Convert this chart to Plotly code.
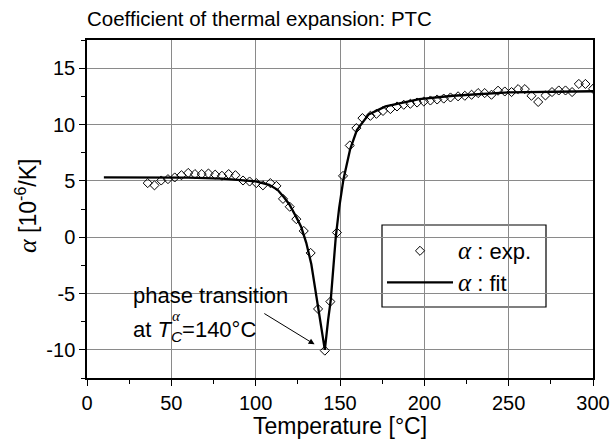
import plotly.graph_objects as go

# Experimental data (Temperature in °C, alpha in 1e-6/K)
exp_T = [36, 40, 44, 48, 52, 56, 60, 64, 68, 72, 76, 80, 84, 88, 92.5, 96.4,
         100.4, 104.3, 108.7, 112.3, 116.2, 120.2, 124.1, 128.5, 132.6, 137,
         141, 144.3, 148.2, 151.8, 155.8, 159.7, 163.3, 168, 171.6, 175.5,
         179.9, 183.8, 187.8, 191.7, 195.7, 199.7, 203.6, 207.6, 211.5, 215.5,
         220, 224, 228, 231.9, 235.8, 239.8, 243.7, 247.7, 251.7, 255.6, 259.6,
         263.5, 267.5, 271.8, 275.7, 279.7, 283.7, 287.6, 291.6, 295.5, 300]
exp_a = [4.8, 4.6, 5.03, 5.15, 5.3, 5.5, 5.7, 5.6, 5.6, 5.65, 5.55, 5.45, 5.6,
         5.5, 5.03, 4.94, 4.8, 4.6, 4.8, 4.55, 3.4, 2.7, 1.6, 0.55, -1.4, -6.37,
         -10.07, -5.72, 0.41, 5.44, 8.14, 9.68, 10.57, 10.77, 10.95, 11.2,
         11.37, 11.6, 11.75, 11.84, 11.95, 12.04, 12.13, 12.22, 12.3, 12.4,
         12.5, 12.55, 12.64, 12.79, 12.79, 12.64, 13.0, 12.93, 12.88, 13.14,
         13.14, 12.55, 12.0, 12.58, 12.88, 13.02, 13.02, 12.88, 13.6, 13.6, 13.17]

# Fit curve
fit_T = [10, 40, 60, 80, 90, 100, 108, 113, 117, 120, 124, 127, 130, 133, 137,
         141, 143, 144.5, 147.5, 149.5, 152, 156, 160, 167, 177, 197, 217, 250, 300]
fit_a = [5.3, 5.3, 5.28, 5.2, 5.1, 4.95, 4.65, 4.2, 3.5, 2.9, 1.8, 0.9, -0.5,
         -2.4, -6.2, -10.0, -7.3, -5.6, 0.0, 2.6, 5.1, 7.8, 9.5, 10.9, 11.6,
         12.25, 12.55, 12.85, 12.95]

x_ticks = [0, 50, 100, 150, 200, 250, 300]
y_ticks = [-10, -5, 0, 5, 10, 15]
y_ticktext = ["-10", "-5", "0", "5", "10", "15"]

SANS = "Liberation Sans, Arial, sans-serif"


def alpha(size):
    return ('<span style="font-family:Liberation Serif;font-size:%dpx"><i>α</i></span>' % size)


# pixel -> paper helpers (plot area: x 87..593, y 40..378)
def px(xp):
    return (xp - 87) / 506


def py(yp):
    return (378 - yp) / 338


fig = go.Figure()
fig.add_trace(go.Scatter(
    x=exp_T, y=exp_a, mode="markers", name=alpha(25) + " : exp.",
    marker=dict(symbol="diamond-open", size=7, color="black", line=dict(width=1))))
fig.add_trace(go.Scatter(
    x=fit_T, y=fit_a, mode="lines", name=alpha(25) + " : fit",
    line=dict(color="black", width=2.3)))

axis_common = dict(
    showline=True, linecolor="black", linewidth=1.5, mirror=True,
    showgrid=True, gridcolor="#8a8a8a", gridwidth=1, zeroline=False,
    ticks="outside", ticklen=6, tickwidth=1.2, tickcolor="black",
    tickfont=dict(family=SANS, size=20, color="black"), automargin=False,
)
fig.update_xaxes(range=[0, 300], tickvals=x_ticks,
                 minor=dict(ticks="outside", ticklen=4, tickcolor="black", dtick=25, tick0=0, showgrid=False),
                 **axis_common)
fig.update_yaxes(range=[-12.5, 17.5], tickvals=y_ticks, ticktext=y_ticktext,
                 minor=dict(ticks="outside", ticklen=4, tickcolor="black", dtick=2.5, tick0=0, showgrid=False),
                 **axis_common)

fig.update_layout(
    width=613, height=442,
    margin=dict(l=87, r=20, t=40, b=64),
    paper_bgcolor="white", plot_bgcolor="white",
    font=dict(family=SANS, color="black"),
    title=dict(text="Coefficient of thermal expansion: PTC", x=87/613, xanchor="left",
               y=1 - 19/442, yanchor="middle", font=dict(family=SANS, size=20.5, color="black")),
    legend=dict(x=px(382), y=py(230), xanchor="left", yanchor="top",
                bgcolor="rgba(0,0,0,0)", borderwidth=0,
                font=dict(family=SANS, size=22, color="black"), itemwidth=66),
    showlegend=True,
)

# legend frame
fig.add_shape(type="rect", xref="paper", yref="paper",
              x0=px(382), x1=px(546), y0=py(307), y1=py(225),
              fillcolor="white", line=dict(width=1.2, color="black"), layer="between")

# white box behind the phase transition note (covers gridlines)
fig.add_shape(type="rect", xref="paper", yref="paper",
              x0=px(118), x1=px(290), y0=py(346), y1=py(270),
              fillcolor="white", line=dict(width=0), layer="between")

# x axis title
fig.add_annotation(xref="paper", yref="paper", x=0.5, y=py(426),
                   text="Temperature [°C]", showarrow=False,
                   font=dict(family=SANS, size=23, color="black"),
                   xanchor="center", yanchor="middle")

# y axis title
fig.add_annotation(xref="paper", yref="paper", x=px(27), y=py(206),
                   text=alpha(26) + " [10<sup>-6</sup>/K]", textangle=-90, showarrow=False,
                   font=dict(family=SANS, size=23, color="black"),
                   xanchor="center", yanchor="middle")

# phase transition text
fig.add_annotation(xref="paper", yref="paper", x=px(131), y=py(295),
                   xanchor="left", yanchor="middle", showarrow=False,
                   text="phase transition",
                   font=dict(family=SANS, size=22, color="black"))
fig.add_annotation(xref="paper", yref="paper", x=px(131), y=py(331),
                   xanchor="left", yanchor="middle", showarrow=False,
                   text="at <i>T</i><sub><i>C</i></sub>=140°C",
                   font=dict(family=SANS, size=22, color="black"))
fig.add_annotation(xref="paper", yref="paper", x=px(176), y=py(316),
                   xanchor="center", yanchor="middle", showarrow=False,
                   text=alpha(15),
                   font=dict(family=SANS, size=14, color="black"))
# arrow
fig.add_annotation(x=141, y=-10.07, xref="x", yref="y", ax=-62, ay=-38,
                   text="", showarrow=True, arrowhead=2, arrowsize=1.2,
                   arrowwidth=1, arrowcolor="black", standoff=12)

fig.write_html("out.html")
